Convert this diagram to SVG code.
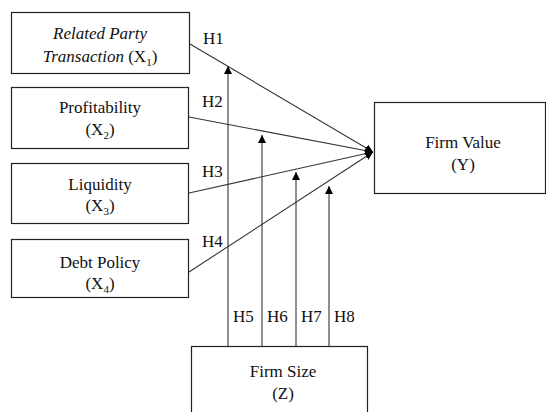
<svg xmlns="http://www.w3.org/2000/svg" width="546" height="412" viewBox="0 0 546 412">
<style>
.box{fill:#fff;stroke:#222;stroke-width:1.2}
.t{font-size:17px;fill:#111;text-anchor:middle}
.h{font-size:17px;fill:#111}
.ln{stroke:#333;stroke-width:1.1;fill:none}
.sub{font-size:11px}
</style>
<defs>
<marker id="ah" viewBox="0 0 10 10" refX="10" refY="5" markerWidth="8" markerHeight="8" markerUnits="userSpaceOnUse" orient="auto">
<path d="M0,0 L10,5 L0,10 z" fill="#000"/>
</marker>
</defs>
<rect width="546" height="412" fill="#fff"/>
<g font-family="Liberation Serif, DejaVu Serif, serif">
<g id="connectors">
<line class="ln" x1="190" y1="44" x2="373" y2="152" marker-end="url(#ah)"/>
<line class="ln" x1="189" y1="117" x2="373" y2="152" marker-end="url(#ah)"/>
<line class="ln" x1="189" y1="193" x2="373" y2="152" marker-end="url(#ah)"/>
<line class="ln" x1="189" y1="272" x2="373" y2="152" marker-end="url(#ah)"/>
<line class="ln" x1="228" y1="346" x2="228" y2="66" marker-end="url(#ah)"/>
<line class="ln" x1="262" y1="346" x2="262" y2="135" marker-end="url(#ah)"/>
<line class="ln" x1="296" y1="346" x2="296" y2="172" marker-end="url(#ah)"/>
<line class="ln" x1="329" y1="346" x2="329" y2="186" marker-end="url(#ah)"/>
<text class="h" x="203" y="44">H1</text>
<text class="h" x="202" y="107">H2</text>
<text class="h" x="202" y="177">H3</text>
<text class="h" x="202" y="247">H4</text>
<text class="h" x="233" y="322">H5</text>
<text class="h" x="267" y="322">H6</text>
<text class="h" x="301" y="322">H7</text>
<text class="h" x="334" y="322">H8</text>
</g>
<g id="x1">
<rect class="box" x="11.5" y="12.5" width="178" height="61"/>
<text class="t" x="100" y="39" font-style="italic">Related Party</text>
<text class="t" x="100" y="62"><tspan font-style="italic">Transaction</tspan> (X<tspan class="sub" dy="4">1</tspan><tspan dy="-4">)</tspan></text>
</g>
<g id="x2">
<rect class="box" x="11.5" y="87.5" width="177" height="61"/>
<text class="t" x="100" y="113">Profitability</text>
<text class="t" x="100" y="135">(X<tspan class="sub" dy="4">2</tspan><tspan dy="-4">)</tspan></text>
</g>
<g id="x3">
<rect class="box" x="11.5" y="163.5" width="177" height="60"/>
<text class="t" x="100" y="190">Liquidity</text>
<text class="t" x="100" y="211">(X<tspan class="sub" dy="4">3</tspan><tspan dy="-4">)</tspan></text>
</g>
<g id="x4">
<rect class="box" x="11.5" y="239.5" width="177" height="58"/>
<text class="t" x="100" y="268">Debt Policy</text>
<text class="t" x="100" y="289">(X<tspan class="sub" dy="4">4</tspan><tspan dy="-4">)</tspan></text>
</g>
<g id="y">
<rect class="box" x="374.5" y="102.5" width="171" height="91"/>
<text class="t" x="463" y="148">Firm Value</text>
<text class="t" x="463" y="170">(Y)</text>
</g>
<g id="z">
<rect class="box" x="191.5" y="346.5" width="176" height="80"/>
<text class="t" x="283" y="377">Firm Size</text>
<text class="t" x="283" y="399">(Z)</text>
</g>
</g>
</svg>
